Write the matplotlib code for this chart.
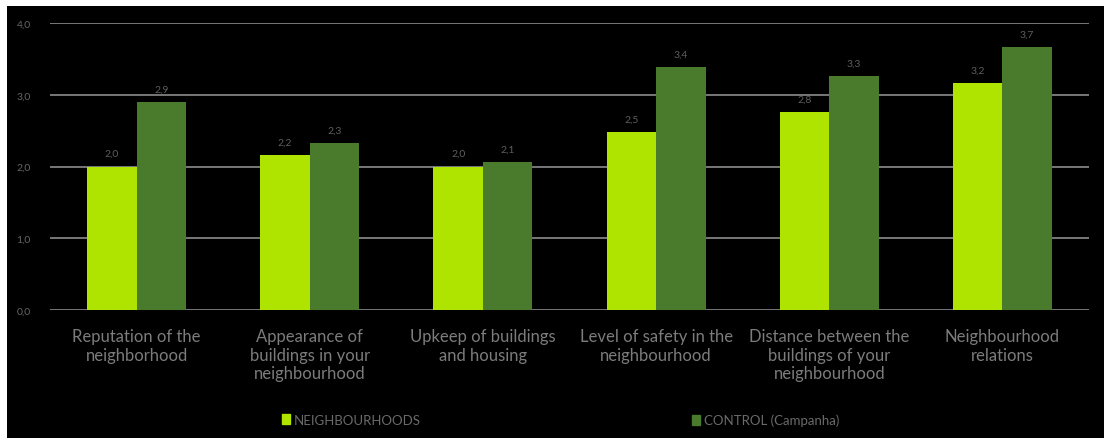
import matplotlib
matplotlib.use("Agg")
import matplotlib.pyplot as plt
import numpy as np
from matplotlib.patches import Rectangle, Patch

categories = ["Reputation of the\nneighborhood",
              "Appearance of\nbuildings in your\nneighbourhood",
              "Upkeep of buildings\nand housing",
              "Level of safety in the\nneighbourhood",
              "Distance between the\nbuildings of your\nneighbourhood",
              "Neighbourhood\nrelations"]
neighbourhoods = [2.0, 2.16, 2.0, 2.48, 2.76, 3.16]
control = [2.9, 2.33, 2.06, 3.39, 3.26, 3.66]
series_names = ["NEIGHBOURHOODS", "CONTROL (Campanha)"]
yticks = [0.0, 1.0, 2.0, 3.0, 4.0]

light = "#afe400"
dark = "#4a7a2c"
txt = "#7c7c7c"
plt.rcParams['font.family'] = ['Lato', 'DejaVu Sans']

W, H = 1104, 439
fig = plt.figure(figsize=(W/100, H/100), dpi=100, facecolor="white")
fig.patches.append(Rectangle((7/W, 0), 1 - 7/W, 1 - 7/H, transform=fig.transFigure,
                             facecolor="black", edgecolor="none", zorder=-10))

ax = fig.add_axes([50/W, 1 - 311/H, (1089-50)/W, (311-24)/H])
ax.set_facecolor("black")
x = np.arange(len(categories))
bw = 0.286
b1 = ax.bar(x - bw/2, neighbourhoods, bw, color=light, zorder=3)
b2 = ax.bar(x + bw/2, control, bw, color=dark, zorder=3)
for bars, vals in ((b1, neighbourhoods), (b2, control)):
    for r, v in zip(bars, vals):
        ax.annotate(f"{v:.1f}".replace(".", ","), (r.get_x() + r.get_width()/2, v),
                    xytext=(0, 6), textcoords="offset points", ha="center", va="bottom",
                    fontsize=7.5, color="#5e5e5e")

ax.set_xlim(-0.5, len(categories) - 0.5)
ax.set_ylim(0, 4)
ax.set_yticks(yticks)
ax.set_yticklabels([f"{t:.1f}".replace(".", ",") for t in yticks], fontsize=7.5, color="#666666")
ax.yaxis.grid(True, color="#8c8c8c", linewidth=1.2, zorder=0)
ax.set_axisbelow(True)
ax.set_xticks(x)
ax.set_xticklabels(categories, fontsize=12, color=txt, linespacing=1.2, va="top")
ax.tick_params(axis="x", length=0, pad=13)
ax.tick_params(axis="y", length=0, pad=14)
for s in ax.spines.values():
    s.set_visible(False)

fig.legend(handles=[Patch(color=light)], labels=[series_names[0]], loc="center left",
           bbox_to_anchor=(270/W, 1 - 421/H), frameon=False, fontsize=9.5,
           labelcolor="#6a6a6a", handlelength=0.6, handleheight=0.8, handletextpad=0.3)
fig.legend(handles=[Patch(color=dark)], labels=[series_names[1]], loc="center left",
           bbox_to_anchor=(680/W, 1 - 421/H), frameon=False, fontsize=9.5,
           labelcolor="#6a6a6a", handlelength=0.6, handleheight=0.8, handletextpad=0.3)

fig.savefig("out.png", dpi=100, facecolor="white")
